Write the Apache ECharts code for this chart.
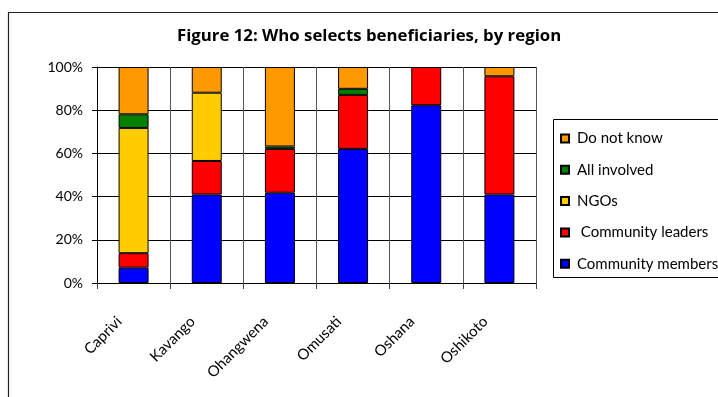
<!DOCTYPE html>
<html>
<head>
<meta charset="utf-8">
<script src="https://cdn.jsdelivr.net/npm/echarts@6/dist/echarts.min.js"></script>
<style>
  html, body { margin: 0; padding: 0; background: #fff; }
  #chart { width: 718px; height: 397px; }
</style>
</head>
<body>
<div id="chart"></div>
<script>
// Regions along the horizontal axis
const regions = ['Caprivi', 'Kavango', 'Ohangwena', 'Omusati', 'Oshana', 'Oshikoto'];

// Share of respondents (%) naming each group as the one that selects beneficiaries
const communityMembers = [7.1, 41.0, 41.8, 62.1, 82.3, 41.0];
const communityLeaders = [6.7, 15.5, 20.3, 25.0, 17.7, 54.7];
const ngos             = [58.0, 31.6, null, null, null, null];
const allInvolved      = [6.3, null, 1.1, 2.8, null, null];
const doNotKnow        = [21.9, 11.9, 36.8, 10.1, null, 4.3];

const yTicks = [0, 20, 40, 60, 80, 100];

const FONT = 'Lato, "DejaVu Sans", sans-serif';
const TITLE_FONT = '"Open Sans", Lato, sans-serif';

function bar(name, data, color) {
  return {
    name: name,
    type: 'bar',
    stack: 'total',
    barWidth: '41%',
    data: data,
    itemStyle: { color: color, borderColor: '#000', borderWidth: 1 }
  };
}

const chart = echarts.init(document.getElementById('chart'), null, { renderer: 'canvas' });

chart.setOption({
  animation: false,
  backgroundColor: '#fff',
  textStyle: { fontFamily: FONT },
  title: {
    text: 'Figure 12: Who selects beneficiaries, by region',
    left: 172,
    top: 23,
    textStyle: { fontFamily: TITLE_FONT, fontSize: 16.8, fontWeight: 'bold', color: '#000' }
  },
  grid: { left: 97, right: 182, top: 67, bottom: 114, containLabel: false },
  legend: {
    orient: 'vertical',
    left: 555,
    top: 126,
    itemGap: 16.3,
    icon: 'rect',
    itemWidth: 8,
    itemHeight: 8,
    data: ['Do not know', 'All involved', 'NGOs', ' Community leaders', 'Community members'],
    textStyle: { fontFamily: FONT, fontSize: 15, color: '#000', padding: [0, 0, 0, 3] }
  },
  xAxis: {
    type: 'category',
    data: regions,
    boundaryGap: true,
    axisLine: { show: true, lineStyle: { color: '#000', width: 1 } },
    axisTick: { show: true, length: 6, lineStyle: { color: '#444' } },
    splitLine: { show: true, lineStyle: { color: '#555', width: 1 } },
    axisLabel: {
      rotate: 45, fontFamily: FONT, fontSize: 15, color: '#000',
      margin: 22, interval: 0, padding: [0, 20, 0, 0]
    }
  },
  yAxis: {
    type: 'value',
    min: yTicks[0],
    max: yTicks[yTicks.length - 1],
    interval: 20,
    axisLine: { show: true, lineStyle: { color: '#000', width: 1 } },
    axisTick: { show: true, length: 5, lineStyle: { color: '#000' } },
    splitLine: { show: true, lineStyle: { color: '#000', width: 1 } },
    axisLabel: { formatter: '{value}%', fontFamily: FONT, fontSize: 14, color: '#000', margin: 14 }
  },
  series: [
    bar('Community members', communityMembers, '#0000FF'),
    bar(' Community leaders', communityLeaders, '#FF0000'),
    bar('NGOs', ngos, '#FFCC00'),
    bar('All involved', allInvolved, '#008000'),
    bar('Do not know', doNotKnow, '#FF9900')
  ],
  graphic: [
    // outer frame of the figure
    { type: 'rect', shape: { x: 8.5, y: 12.5, width: 800, height: 500 },
      style: { fill: 'none', stroke: '#222', lineWidth: 1.2 }, silent: true },
    // legend box
    { type: 'rect', shape: { x: 553.5, y: 119.5, width: 200, height: 158 },
      style: { fill: 'none', stroke: '#000', lineWidth: 1 }, silent: true }
  ]
});
</script>
</body>
</html>
